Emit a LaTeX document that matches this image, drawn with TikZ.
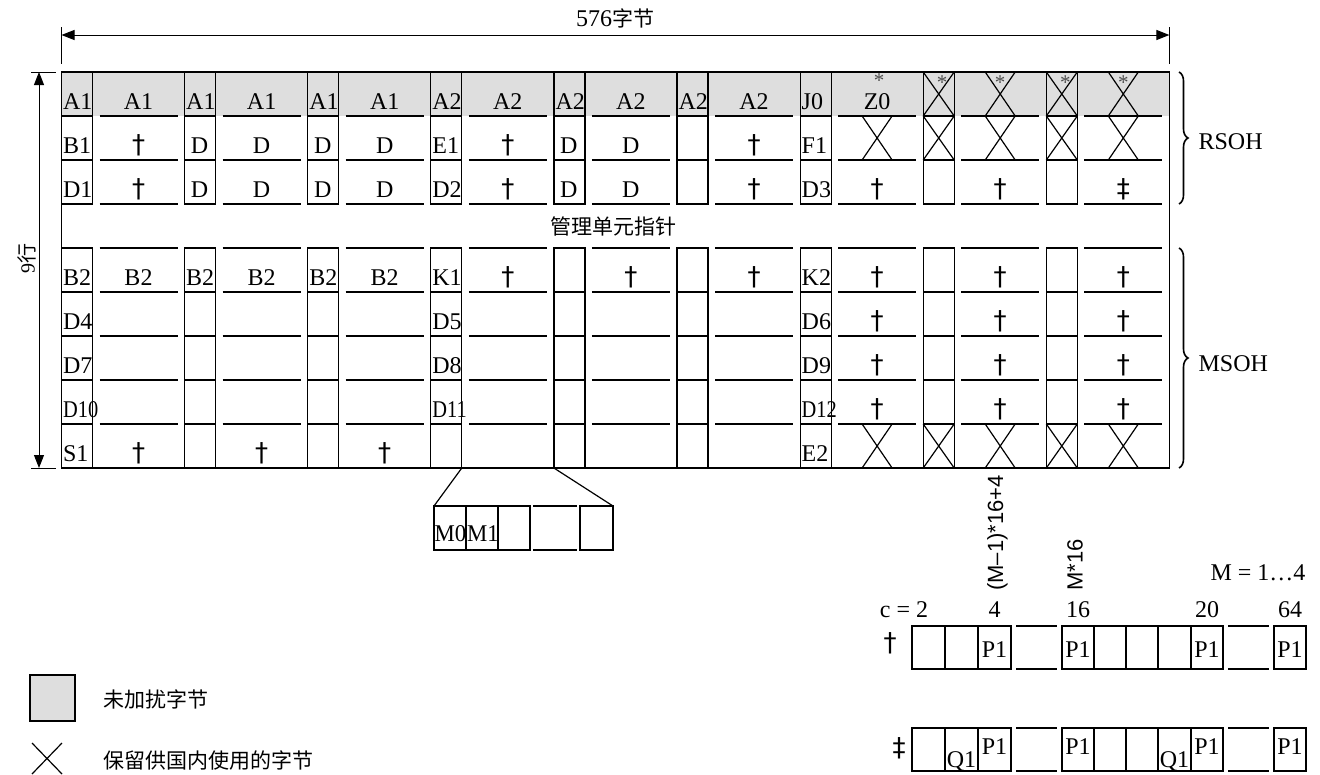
\documentclass[tikz,border=0pt]{standalone}
\usepackage{fontspec}
\setmainfont{Liberation Serif}
\newfontfamily\cjk{Noto Sans CJK SC}
\newfontfamily\sansf{Liberation Sans}
\newfontfamily\symf{DejaVu Sans}
\usetikzlibrary{arrows.meta,decorations.pathreplacing}
\newcommand\bigdag{{\symf\fontsize{26}{26}\selectfont †}}
\newcommand\bigddag{{\symf\fontsize{26}{26}\selectfont ‡}}
\begin{document}
\begin{tikzpicture}[x=1pt,y=-1pt,line width=1.2pt,
  txt/.style={font=\fontsize{24}{26}\selectfont,inner sep=0pt},
  nlab/.style={txt,anchor=base west},
  clab/.style={txt,anchor=base},
  cjkt/.style={font=\cjk\fontsize{21}{24}\selectfont,inner sep=0pt},
  startxt/.style={font=\fontsize{21}{21}\selectfont,text=black!70,inner sep=0pt},
  rottxt/.style={font=\sansf\fontsize{22}{24}\selectfont,inner sep=0pt,rotate=90},
  dimarrow/.style={{Triangle[length=13pt,width=10pt]}-{Triangle[length=13pt,width=10pt]},line width=1pt},
  bracestyle/.style={decorate,decoration={brace,amplitude=9pt},line width=1.6pt},
  graycell/.style={fill=black!13}]
\useasboundingbox (0,0) rectangle (1320,774);

% gray first row
\fill[graycell] (61.5,72) rectangle (1169.4,116);

% outer frame
\draw (61.5,72) rectangle (1169.4,468);

% narrow boxes and wide cell lines
\foreach \k in {0,...,8}{
  \pgfmathsetmacro\bx{61.5+123.1*\k}
  \draw (\bx,72) rectangle (\bx+31,204);
  \draw (\bx,116) -- (\bx+31,116) (\bx,160) -- (\bx+31,160);
  \draw (\bx,248) rectangle (\bx+31,468);
  \foreach \yy in {292,336,380,424} \draw (\bx,\yy) -- (\bx+31,\yy);
  \foreach \yy in {116,160,204,248,292,336,380,424} \draw (\bx+38,\yy) -- (\bx+116,\yy);
}

% narrow labels (left aligned)
\foreach \k/\r/\t [count=\i] in {0/0/A1,1/0/A1,2/0/A1,3/0/A2,4/0/A2,5/0/A2,6/0/J0,
  0/1/B1,3/1/E1,6/1/F1,0/2/D1,3/2/D2,6/2/D3,
  0/4/B2,1/4/B2,2/4/B2,3/4/K1,6/4/K2,
  0/5/D4,3/5/D5,6/5/D6,0/6/D7,3/6/D8,6/6/D9,
  0/7/{\scalebox{0.85}[1]{D10}},3/7/{\scalebox{0.85}[1]{D11}},6/7/{\scalebox{0.85}[1]{D12}},
  0/8/S1,6/8/E2}{
  \pgfmathsetmacro\bx{61.5+123.1*\k}
  \pgfmathsetmacro\yb{72+44*\r+37}
  \node[nlab] (nl\i) at (\bx+1,\yb) {\t};
}
% narrow single letters (centred)
\foreach \k/\r [count=\i] in {1/1,2/1,4/1,1/2,2/2,4/2}{
  \pgfmathsetmacro\bx{61.5+123.1*\k}
  \pgfmathsetmacro\yb{72+44*\r+37}
  \node[clab] (nd\i) at (\bx+15,\yb) {D};
}
% wide labels
\foreach \k/\r/\t [count=\i] in {0/0/A1,1/0/A1,2/0/A1,3/0/A2,4/0/A2,5/0/A2,6/0/Z0,
  0/1/\bigdag,1/1/D,2/1/D,3/1/\bigdag,4/1/D,5/1/\bigdag,
  0/2/\bigdag,1/2/D,2/2/D,3/2/\bigdag,4/2/D,5/2/\bigdag,6/2/\bigdag,7/2/\bigdag,8/2/\bigddag,
  0/4/B2,1/4/B2,2/4/B2,3/4/\bigdag,4/4/\bigdag,5/4/\bigdag,6/4/\bigdag,7/4/\bigdag,8/4/\bigdag,
  6/5/\bigdag,7/5/\bigdag,8/5/\bigdag,6/6/\bigdag,7/6/\bigdag,8/6/\bigdag,6/7/\bigdag,7/7/\bigdag,8/7/\bigdag,
  0/8/\bigdag,1/8/\bigdag,2/8/\bigdag}{
  \pgfmathsetmacro\bx{61.5+123.1*\k}
  \pgfmathsetmacro\yb{72+44*\r+37}
  \node[clab] (wl\i) at (\bx+77,\yb) {\t};
}

% crosses in wide cells
\foreach \k/\r in {7/0,8/0,6/1,7/1,8/1,6/8,7/8,8/8}{
  \pgfmathsetmacro\cx{61.5+123.1*\k+77}
  \pgfmathsetmacro\ty{72+44*\r}
  \draw (\cx-15,\ty) -- (\cx+15,\ty+44) (\cx+15,\ty) -- (\cx-15,\ty+44);
}
% crosses in narrow cells
\foreach \k/\r in {7/0,8/0,7/1,8/1,7/8,8/8}{
  \pgfmathsetmacro\bx{61.5+123.1*\k}
  \pgfmathsetmacro\ty{72+44*\r}
  \draw (\bx,\ty) -- (\bx+31,\ty+44) (\bx+31,\ty) -- (\bx,\ty+44);
}
% asterisks
\node[startxt] (s0) at (879,81) {*};
\foreach \k [count=\i] in {7,8}{
  \pgfmathsetmacro\bx{61.5+123.1*\k}
  \node[startxt] (sn\i) at (\bx+19,83) {*};
  \node[startxt] (sw\i) at (\bx+77,83) {*};
}

% pointer row
\node[cjkt] (ptr) at (613,226) {管理单元指针};

% top dimension
\coordinate (tl) at (61.5,35);
\coordinate (tr) at (1169.4,35);
\draw[line width=1pt] (61.5,27) -- (61.5,64) (1169.4,27) -- (1169.4,64);
\draw[dimarrow] (tl) -- (tr);
\node[txt] (w576) at (615,18) {576{\cjk\fontsize{21}{24}\selectfont 字节}};

% left dimension
\coordinate (lt) at (39,72);
\coordinate (lb) at (39,468);
\draw[line width=1pt] (31,72) -- (56,72) (31,468) -- (56,468);
\draw[dimarrow] (lt) -- (lb);
\node[font=\fontsize{20}{22}\selectfont,inner sep=0pt,rotate=90] (rows) at (27,258) {9{\cjk 行}};

% braces
\draw[bracestyle] (1179,72) -- (1179,204);
\draw[bracestyle] (1179,248) -- (1179,468);
\node[txt,anchor=west] (rsoh) at (1198,142) {RSOH};
\node[txt,anchor=west] (msoh) at (1198,364) {MSOH};

% M0 M1 expansion
\coordinate (ea) at (461.8,468);
\coordinate (eb) at (553.9,468);
\coordinate (ec) at (434,506);
\coordinate (ed) at (613,506);
\draw (ea) -- (ec);
\draw (eb) -- (ed);
\draw (434,506) rectangle (530,550);
\draw (466,506) -- (466,550) (498,506) -- (498,550);
\draw (533,506) -- (577,506) (533,550) -- (577,550);
\draw (580,506) rectangle (613,550);
\node[nlab] (m0) at (434,541) {\scalebox{0.95}[1]{M0}};
\node[nlab] (m1) at (466.5,541) {\scalebox{0.95}[1]{M1}};

% bottom right sequences
\foreach \ty/\nm in {626/a,728/b}{
  \draw (912,\ty) rectangle (1011,\ty+43);
  \draw (945,\ty) -- (945,\ty+43) (978,\ty) -- (978,\ty+43);
  \draw (1016,\ty) -- (1057,\ty) (1016,\ty+43) -- (1057,\ty+43);
  \draw (1062,\ty) rectangle (1223,\ty+43);
  \foreach \xx in {1094,1126,1158,1191} \draw (\xx,\ty) -- (\xx,\ty+43);
  \draw (1228,\ty) -- (1269,\ty) (1228,\ty+43) -- (1269,\ty+43);
  \draw (1274,\ty) rectangle (1306,\ty+43);
}
\foreach \xx [count=\i] in {994.5,1078,1207,1290}{
  \node[clab] (pa\i) at (\xx,657) {P1};
  \node[clab] (pb\i) at (\xx,754) {P1};
}
\node[clab] (qb1) at (961.5,767) {Q1};
\node[clab] (qb2) at (1174.5,767) {Q1};
\node[txt] (dga) at (890,643) {\bigdag};
\node[txt] (dgb) at (899,748) {\bigddag};

\node[clab] (c2) at (904,617) {c = 2};
\node[clab] (c4) at (994.5,617) {4};
\node[clab] (c16) at (1078,617) {16};
\node[clab] (c20) at (1207,617) {20};
\node[clab] (c64) at (1290,617) {64};
\node[clab] (mr) at (1258,580) {M = 1…4};
\node[rottxt] (f1) at (997.5,533) {(M–1)*16+4};
\node[rottxt] (f2) at (1075,565) {M*16};

% legend
\fill[graycell] (30,675) rectangle (75,721);
\draw (30,675) rectangle (75,721);
\node[cjkt,anchor=west] (lg1) at (103,699) {未加扰字节};
\draw (32,743) -- (62,774) (62,743) -- (32,774);
\node[cjkt,anchor=west] (lg2) at (103,760) {保留供国内使用的字节};
\end{tikzpicture}
\end{document}
